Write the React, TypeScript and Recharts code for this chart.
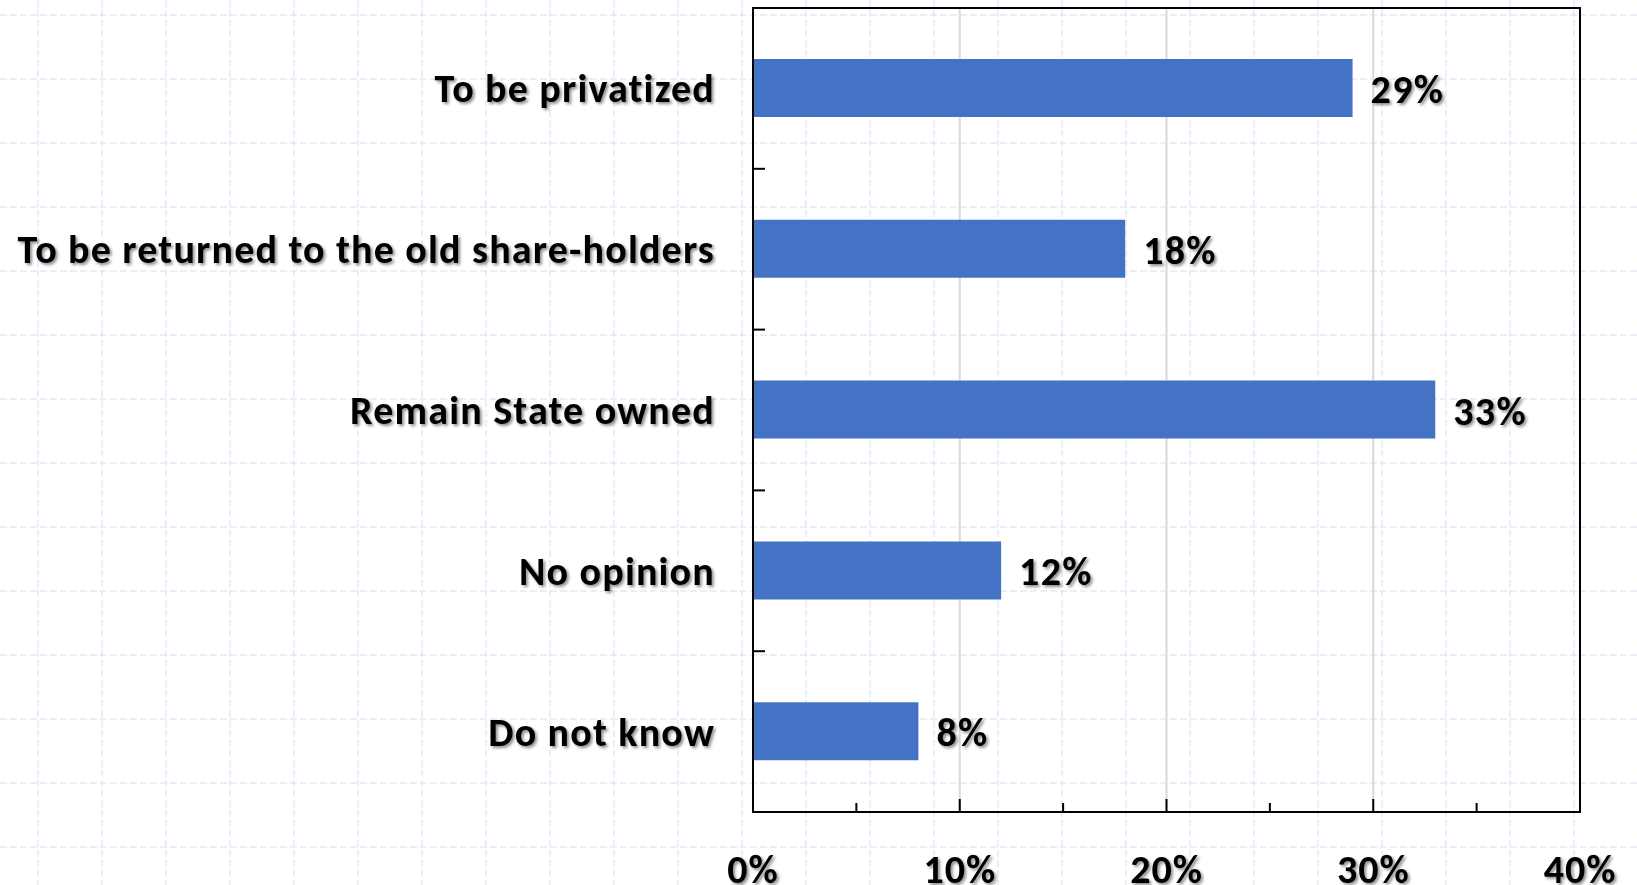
import React from 'react';
import { BarChart, Bar, XAxis, YAxis, CartesianGrid, ReferenceArea, LabelList } from 'recharts';

const categories = [
  'To be privatized',
  'To be returned to the old share-holders',
  'Remain State owned',
  'No opinion',
  'Do not know',
];
const values = [29, 18, 33, 12, 8];
const xTicks = [0, 5, 10, 15, 20, 25, 30, 35, 40];
const gridValues = [10, 20, 30];

const data = categories.map((name, i) => ({ name, value: values[i] }));

const W = 1637;
const H = 885;
const FONT = 'Carlito, Calibri, Lato, sans-serif';
const BAR_COLOR = '#4472C4';

const Background = () => {
  const v: number[] = [];
  for (let x = 38; x < W; x += 64) v.push(x);
  const h: number[] = [];
  for (let y = 15; y < H; y += 64) h.push(y);
  return (
    <svg width={W} height={H} style={{ position: 'absolute', left: 0, top: 0 }}>
      <defs>
        <filter id="ts" x="-10%" y="-20%" width="130%" height="160%">
          <feDropShadow dx="2" dy="2" stdDeviation="1.6" floodColor="#000" floodOpacity="0.45" />
        </filter>
      </defs>
      <rect x={0} y={0} width={W} height={H} fill="#fff" />
      {v.map((x) => (
        <line key={'v' + x} x1={x} x2={x} y1={0} y2={H} stroke="#d5def8" strokeWidth={1} strokeDasharray="7 3" />
      ))}
      {h.map((y) => (
        <line key={'h' + y} x1={0} x2={W} y1={y} y2={y} stroke="#d5def8" strokeWidth={1} strokeDasharray="7 3" />
      ))}
    </svg>
  );
};

const YTick = (props: any) => {
  const { x, y, payload, index } = props;
  const off = payload && payload.offset ? payload.offset : 80.35;
  return (
    <g>
      {index > 0 && (
        <line x1={x} x2={x + 12} y1={y - off} y2={y - off} stroke="#000" strokeWidth={2} />
      )}
      <text
        x={x - 38}
        y={y + 14}
        textAnchor="end"
        fontFamily={FONT}
        fontWeight={700}
        fontSize={40}
        letterSpacing={1.2}
        fill="#000"
        filter="url(#ts)"
      >
        {payload.value}
      </text>
    </g>
  );
};

const XTick = (props: any) => {
  const { x, y, payload } = props;
  const v = payload.value;
  const major = v % 10 === 0;
  return (
    <g>
      <line x1={x} x2={x} y1={y} y2={y - (major ? 13 : 9)} stroke="#000" strokeWidth={2} />
      {major && (
        <text
          x={x}
          y={y + 71}
          textAnchor="middle"
          fontFamily={FONT}
          fontWeight={700}
          fontSize={40}
          letterSpacing={1}
          fill="#000"
          filter="url(#ts)"
        >
          {v + '%'}
        </text>
      )}
    </g>
  );
};

const ValueLabel = (props: any) => {
  const { x, y, width, height, value } = props;
  return (
    <text
      x={x + width + 18}
      y={y + height / 2 + 15}
      textAnchor="start"
      fontFamily={FONT}
      fontWeight={700}
      fontSize={40}
      letterSpacing={1.3}
      fill="#000"
      filter="url(#ts)"
    >
      {value + '%'}
    </text>
  );
};

export default function App() {
  return (
    <div style={{ position: 'absolute', left: 0, top: 0, width: W, height: H, overflow: 'hidden' }}>
      <Background />
      <div style={{ position: 'absolute', left: 0, top: 0 }}>
        <BarChart
          width={W}
          height={H}
          data={data}
          layout="vertical"
          margin={{ top: 8, right: 57, bottom: 0, left: 0 }}
          barSize={58}
        >
          <CartesianGrid
            horizontal={false}
            vertical={true}
            verticalValues={gridValues}
            stroke="#d9d9d9"
            strokeWidth={2}
          />
          <XAxis
            type="number"
            dataKey="value"
            domain={[0, 40]}
            ticks={xTicks}
            interval={0}
            height={73}
            tickSize={0}
            tickMargin={0}
            tickLine={false}
            axisLine={{ stroke: '#000', strokeWidth: 2 }}
            tick={<XTick />}
          />
          <YAxis
            type="category"
            dataKey="name"
            width={753}
            interval={0}
            tickSize={0}
            tickMargin={0}
            tickLine={false}
            axisLine={{ stroke: '#000', strokeWidth: 2 }}
            tick={<YTick />}
          />
          <Bar dataKey="value" fill={BAR_COLOR} isAnimationActive={false}>
            <LabelList dataKey="value" content={<ValueLabel />} />
          </Bar>
          <ReferenceArea x1={0} x2={40} fill="none" fillOpacity={0} stroke="#000" strokeWidth={2} strokeOpacity={1} />
        </BarChart>
      </div>
    </div>
  );
}
